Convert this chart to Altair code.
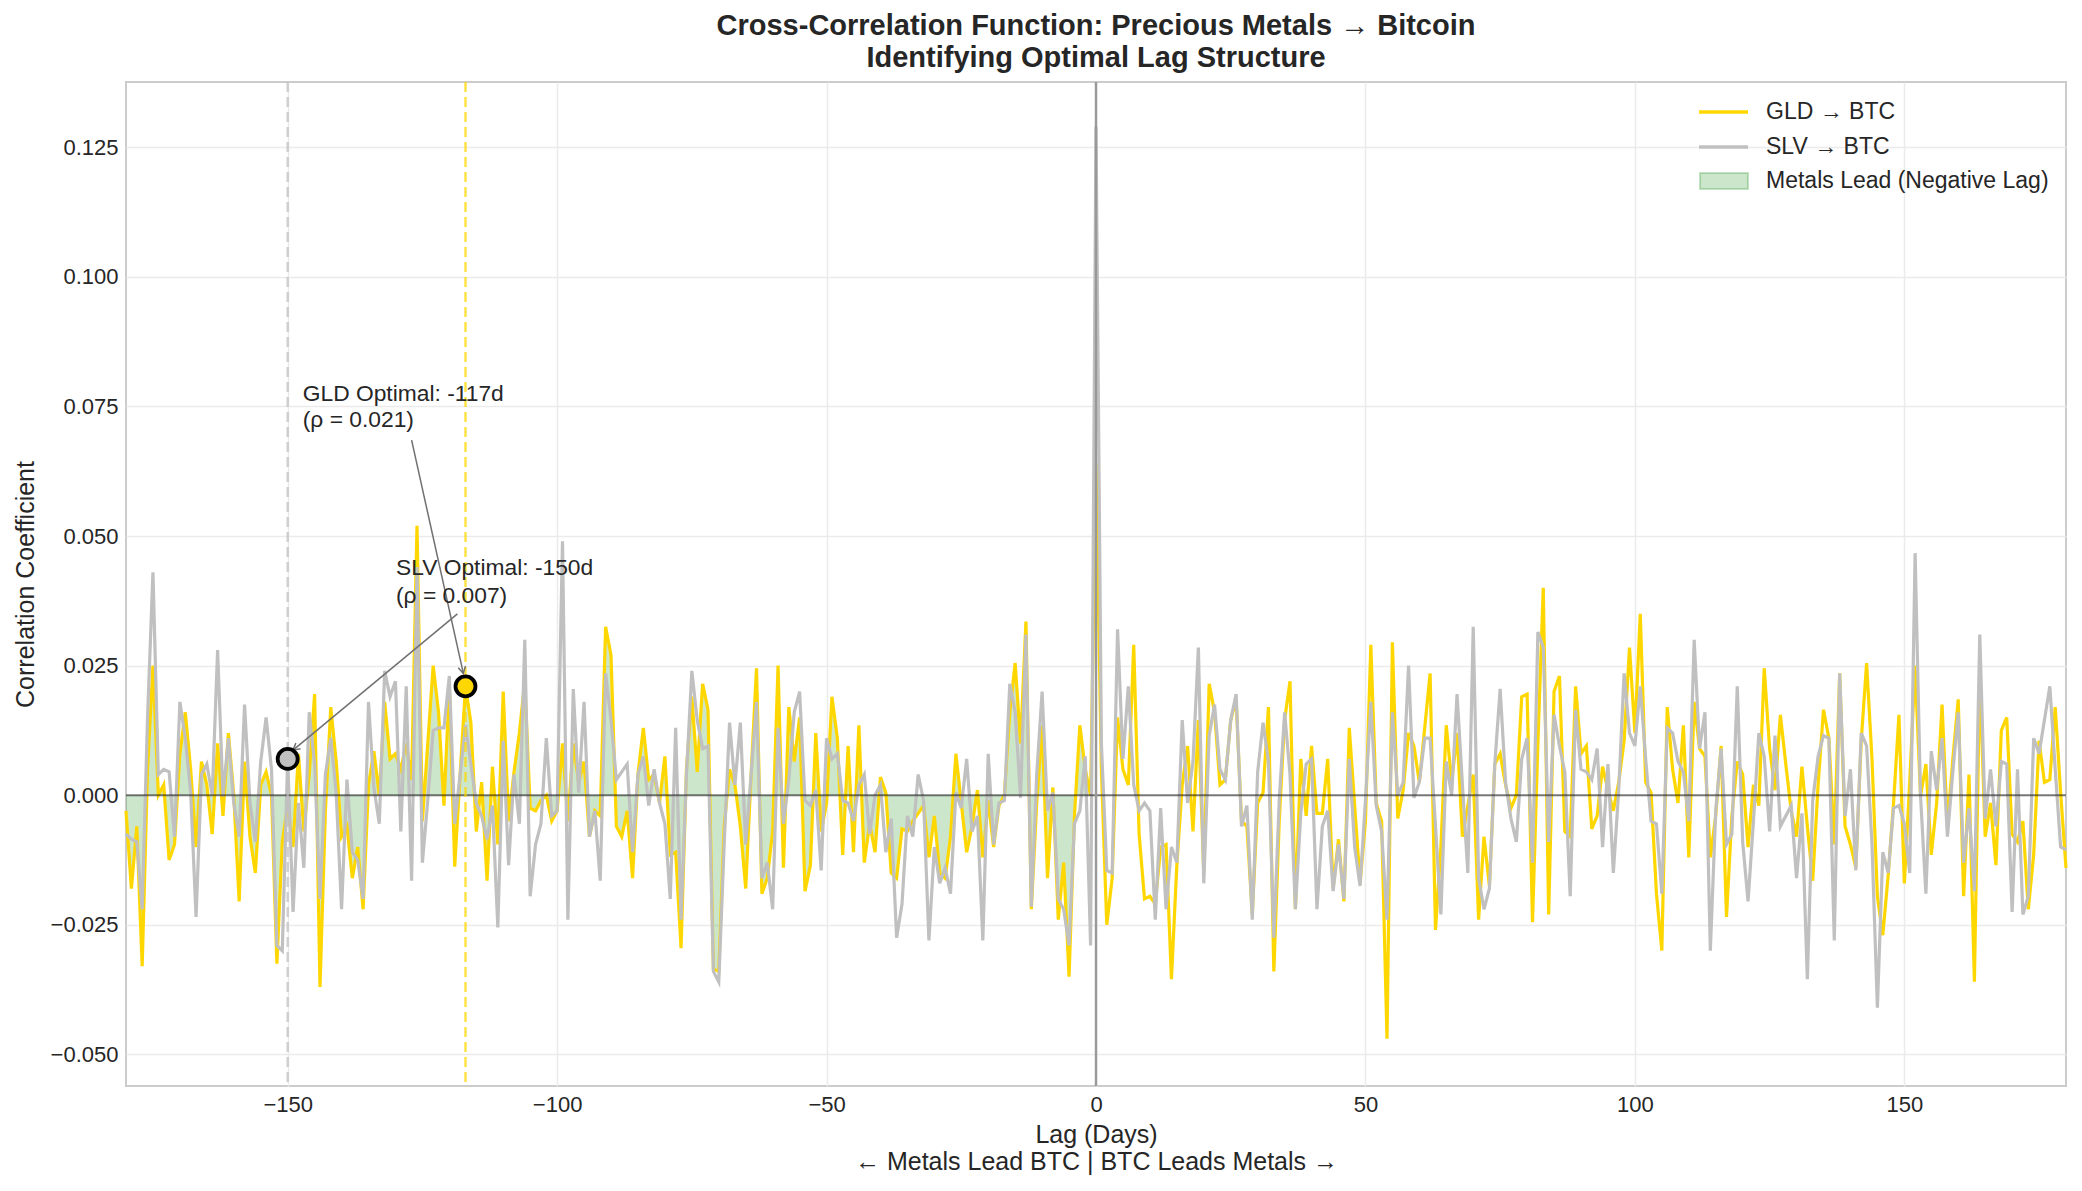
import math
import altair as alt
import pandas as pd

# ---------------- data ----------------
lags = list(range(-180, 181))

gld_ccf = [
    # -180 .. -120
    -0.003, -0.018, -0.006, -0.033, 0.005, 0.025, 0.000, 0.002, -0.0125, -0.0095,
    0.008, 0.016, 0.005, -0.010, 0.0065, 0.002, -0.0075, 0.010, -0.004, 0.012,
    0.000, -0.0205, 0.0065, -0.008, -0.015, 0.002, 0.0045, 0.000, -0.0325, -0.009,
    -0.002, -0.010, 0.008, -0.007, 0.004, 0.0195, -0.037, -0.003, 0.017, 0.0065,
    -0.008, -0.006, -0.016, -0.010, -0.022, 0.002, 0.0085, 0.000, 0.018, 0.007,
    0.008, 0.005, 0.010, 0.003, 0.052, -0.005, 0.010, 0.025, 0.016, -0.002,
    0.021,
    # -119 .. -57
    -0.0138, 0.004, 0.021, 0.014, -0.007, 0.0025, -0.0165, 0.0055, -0.0095, 0.020,
    -0.005, 0.0045, 0.012, 0.022, -0.0025, -0.003, -0.001, 0.000, -0.005, -0.003,
    0.010, -0.005, 0.010, 0.0025, 0.0065, -0.008, -0.003, -0.004, 0.0325, 0.027,
    -0.006, -0.008, -0.003, -0.016, 0.004, 0.013, 0.003, 0.004, -0.0015, 0.0075,
    -0.0115, -0.011, -0.0295, 0.005, 0.019, 0.0045, 0.0215, 0.0165, -0.0335, -0.034,
    -0.006, 0.005, 0.002, -0.006, -0.018, 0.004, 0.0245, -0.019, -0.016, -0.007,
    0.025, -0.014, 0.017,
    # -56 .. 6
    0.0065, 0.015, -0.0185, -0.0135, 0.012, -0.007, -0.0015, 0.019, 0.011, -0.0115,
    0.0095, -0.011, 0.0135, -0.013, -0.0055, -0.011, 0.0035, 0.0005, -0.015, -0.016,
    -0.0065, -0.007, -0.005, -0.0035, -0.002, -0.012, -0.004, -0.015, -0.016, -0.008,
    0.008, -0.0015, -0.011, -0.006, 0.001, -0.012, -0.001, -0.010, -0.002, 0.000,
    0.016, 0.0255, 0.010, 0.0335, -0.022, -0.0015, 0.0135, -0.016, 0.0015, -0.024,
    -0.013, -0.035, -0.004, 0.0135, 0.005, 0.000, 0.064, 0.005, -0.025, -0.016,
    0.015, 0.005, 0.002,
    # 7 .. 69
    0.029, -0.0075, -0.020, -0.0195, -0.021, -0.010, -0.0095, -0.0355, -0.0135, 0.002,
    0.0095, -0.007, 0.0145, -0.015, 0.0215, 0.016, 0.002, 0.003, 0.0145, 0.0185,
    -0.005, -0.006, -0.023, -0.0015, 0.0005, 0.017, -0.034, -0.005, 0.0145, 0.022,
    -0.022, 0.007, -0.004, 0.0095, -0.0035, -0.0035, 0.007, -0.018, -0.0085, -0.0205,
    0.013, -0.002, -0.017, -0.005, 0.029, -0.0015, -0.005, -0.047, 0.0295, -0.0045,
    0.001, 0.012, 0.0095, 0.0025, 0.013, 0.0235, -0.026, -0.010, 0.0135, 0.0025,
    0.012, -0.008, -0.002,
    # 70 .. 132
    0.004, -0.024, -0.008, -0.0175, 0.006, 0.008, 0.002, -0.0025, 0.000, 0.019,
    0.0195, -0.0245, 0.010, 0.040, -0.023, 0.020, 0.023, -0.007, -0.008, 0.021,
    0.008, 0.0095, -0.0065, -0.004, 0.0055, 0.001, -0.003, 0.0025, 0.0105, 0.0285,
    0.012, 0.035, 0.0025, 0.0005, -0.019, -0.030, 0.017, 0.005, -0.0015, 0.0135,
    -0.012, 0.018, 0.009, 0.0075, -0.012, -0.004, 0.0095, -0.0235, -0.004, 0.0065,
    0.004, -0.010, 0.002, -0.002, 0.0245, 0.009, 0.001, 0.0155, 0.006, -0.003,
    -0.008, 0.0055, -0.006,
    # 133 .. 180
    -0.0165, 0.002, 0.0165, 0.011, -0.0095, 0.0235, -0.006, -0.0095, -0.014, 0.0105,
    0.0255, 0.007, -0.0195, -0.027, -0.0155, -0.0015, 0.0155, -0.017, 0.0025, 0.025,
    -0.0002, 0.006, -0.0115, -0.0015, 0.0175, -0.006, 0.007, 0.0185, -0.0195, 0.004,
    -0.036, 0.0235, -0.008, -0.0015, -0.0135, 0.0125, 0.015, -0.0075, -0.009, -0.005,
    -0.022, -0.0115, 0.0105, 0.0025, 0.003, 0.017, 0.0005, -0.014,
]

slv_ccf = [
    # -180 .. -120
    -0.0075, -0.0085, -0.009, -0.022, 0.015, 0.043, 0.004, 0.005, 0.0045, -0.008,
    0.018, 0.011, 0.0005, -0.0235, 0.004, 0.006, 0.000, 0.028, -0.0002, 0.011,
    -0.0015, -0.008, 0.0175, -0.0015, -0.009, 0.0065, 0.015, 0.005, -0.029, -0.030,
    0.007, -0.0225, -0.0015, -0.014, 0.016, 0.006, -0.020, 0.004, 0.011, 0.0005,
    -0.022, 0.003, -0.011, -0.0125, -0.020, 0.018, 0.0015, -0.0055, 0.024, 0.019,
    0.022, -0.007, 0.021, -0.0165, 0.044, -0.013, -0.001, 0.0125, 0.013, 0.013,
    0.023,
    # -119 .. -57
    -0.0055, 0.004, 0.0135, 0.006, -0.0015, -0.004, -0.0085, -0.002, -0.0255, 0.0105,
    -0.0135, 0.004, -0.0055, 0.030, -0.0195, -0.0095, -0.0055, 0.011, -0.004, -0.003,
    0.049, -0.024, 0.0205, 0.0005, 0.018, -0.008, -0.003, -0.0165, 0.0235, 0.0145,
    0.003, 0.0045, 0.006, -0.011, 0.004, 0.0075, -0.002, 0.005, -0.0015, -0.0055,
    -0.020, 0.013, -0.024, 0.004, 0.024, 0.0145, 0.009, 0.0095, -0.034, -0.036,
    -0.0095, 0.014, 0.002, 0.014, -0.0095, 0.004, 0.018, -0.016, -0.013, -0.022,
    0.013, -0.0055, 0.003,
    # -56 .. 6
    0.016, 0.020, -0.001, -0.002, 0.001, -0.0145, 0.011, 0.007, 0.008, -0.001,
    -0.0015, -0.005, 0.002, 0.004, -0.0075, 0.000, 0.002, -0.011, -0.0045, -0.0275,
    -0.021, -0.004, -0.008, 0.004, -0.001, -0.028, -0.010, -0.017, -0.014, -0.019,
    0.0005, -0.0025, 0.007, -0.007, -0.004, -0.028, 0.008, -0.0095, -0.0015, -0.001,
    0.0215, 0.016, -0.0005, 0.031, -0.0215, 0.004, 0.020, -0.003, 0.0005, -0.020,
    -0.022, -0.029, -0.0055, -0.003, 0.0075, -0.029, 0.129, 0.010, -0.0145, -0.015,
    0.032, 0.007, 0.021,
    # 7 .. 69
    0.002, -0.003, -0.0015, -0.003, -0.024, -0.0025, -0.022, -0.010, -0.013, 0.0145,
    -0.0015, 0.0065, 0.0285, -0.017, 0.0115, 0.0175, 0.005, 0.003, 0.0145, 0.0195,
    -0.006, -0.002, -0.024, 0.0045, 0.014, 0.0065, -0.0275, -0.001, 0.016, 0.004,
    -0.022, -0.0035, 0.006, 0.007, -0.022, -0.006, -0.003, -0.0185, -0.0095, -0.020,
    0.007, -0.010, -0.0175, -0.001, 0.018, -0.002, -0.007, -0.024, 0.016, 0.000,
    0.0025, 0.025, -0.0005, 0.0025, 0.011, 0.011, -0.006, -0.023, 0.0065, 0.000,
    0.0195, 0.002, -0.015,
    # 70 .. 132
    0.0325, -0.016, -0.022, -0.018, 0.006, 0.0205, 0.0025, -0.0045, -0.009, 0.007,
    0.011, -0.013, 0.0315, 0.0285, -0.009, 0.0155, 0.0095, 0.0045, -0.0195, 0.0165,
    0.005, 0.0045, 0.003, 0.009, -0.010, 0.006, -0.015, 0.001, 0.0235, 0.012,
    0.0095, 0.021, 0.007, -0.005, -0.0055, -0.019, 0.013, 0.012, 0.0065, 0.0045,
    -0.005, 0.030, 0.009, 0.016, -0.030, -0.003, 0.009, -0.0095, -0.0075, 0.021,
    -0.009, -0.0205, -0.005, 0.012, 0.0075, -0.007, 0.0115, -0.006, -0.004, -0.002,
    -0.016, -0.0035, -0.0355,
    # 133 .. 180
    -0.001, 0.0075, 0.0115, 0.011, -0.028, 0.0235, -0.004, 0.005, -0.0145, 0.012,
    0.0095, -0.0095, -0.041, -0.011, -0.015, -0.0025, -0.002, -0.0055, -0.015, 0.0467,
    0.000, -0.019, 0.0085, 0.001, 0.011, -0.008, 0.0045, 0.016, -0.013, -0.0025,
    -0.0185, 0.031, -0.0045, 0.005, -0.006, 0.0065, 0.006, -0.0225, 0.005, -0.023,
    -0.0195, 0.011, 0.008, 0.0145, 0.021, 0.005, -0.010, -0.0105,
]

series_names = ["GLD → BTC", "SLV → BTC", "Metals Lead (Negative Lag)"]
optimal_names = ["GLD", "SLV"]
optimal_lags = [-117, -150]
optimal_rhos = [0.021, 0.007]
annot_x = [-147.2, -129.9]
annot_line1_y = [0.0761, 0.0425]
annot_line2_y = [0.0711, 0.0371]
arrow_from_x = [-127.0, -118.5]
arrow_from_y = [0.0685, 0.0350]
arrow_to_x = [-117.4, -149.0]
arrow_to_y = [0.0235, 0.0087]
x_ticks = [-150, -100, -50, 0, 50, 100, 150]
y_ticks = [-0.05, -0.025, 0.0, 0.025, 0.05, 0.075, 0.1, 0.125]

GOLD = "#FFD700"
SILVER = "#C0C0C0"
FONT = "Liberation Sans"
TXT = "#262626"

W, H = 1940, 1004
X_DOM = [-180, 180]
Y_DOM = [-0.0561, 0.1376]

df = pd.DataFrame({"lag": lags, "gld": gld_ccf, "slv": slv_ccf})
lead = df[df["lag"] < 0]


def _px_angle(x0, y0, x1, y1):
    # screen-space direction (degrees clockwise from "up") of an arrow from (x0,y0) to (x1,y1)
    dx = (x1 - x0) / (X_DOM[1] - X_DOM[0]) * W
    dy = -(y1 - y0) / (Y_DOM[1] - Y_DOM[0]) * H
    return (math.degrees(math.atan2(dx, -dy)) + 360) % 360


opt = pd.DataFrame({
    "name": optimal_names,
    "lag": optimal_lags,
    "rho": optimal_rhos,
    "fill": [GOLD, SILVER],
    "ax": arrow_from_x,
    "ay": arrow_from_y,
    "bx": arrow_to_x,
    "by": arrow_to_y,
    "ang": [_px_angle(a, b, c, d) for a, b, c, d in zip(arrow_from_x, arrow_from_y, arrow_to_x, arrow_to_y)],
})

ann = pd.DataFrame({
    "text": [f"{n} Optimal: {l}d" for n, l in zip(optimal_names, optimal_lags)]
            + [f"(ρ = {r:.3f})" for r in optimal_rhos],
    "tx": annot_x + annot_x,
    "ty": annot_line1_y + annot_line2_y,
})

xscale = alt.Scale(domain=X_DOM, nice=False, zero=False)
yscale = alt.Scale(domain=Y_DOM, nice=False, zero=False)

x_axis = alt.Axis(values=x_ticks, format="d",
                  title=["Lag (Days)", "← Metals Lead BTC | BTC Leads Metals →"])
y_axis = alt.Axis(values=y_ticks, format=".3f", title="Correlation Coefficient")

base = alt.Chart(df)

area = alt.Chart(lead).mark_area(color="#008000", opacity=0.2).encode(
    x=alt.X("lag:Q", scale=xscale, axis=x_axis),
    y=alt.Y("gld:Q", scale=yscale, axis=y_axis),
    y2=alt.datum(0),
)

gld_line = base.mark_line(color=GOLD, strokeWidth=3.2).encode(
    x=alt.X("lag:Q", scale=xscale), y=alt.Y("gld:Q", scale=yscale))
slv_line = base.mark_line(color=SILVER, strokeWidth=3.2).encode(
    x=alt.X("lag:Q", scale=xscale), y=alt.Y("slv:Q", scale=yscale))

zero_h = alt.Chart(pd.DataFrame({"v": [0.0]})).mark_rule(
    color="black", opacity=0.5, strokeWidth=2).encode(y=alt.Y("v:Q", scale=yscale))
zero_v = alt.Chart(pd.DataFrame({"v": [0]})).mark_rule(
    color="#999999", strokeWidth=2.4).encode(x=alt.X("v:Q", scale=xscale))

opt_v = alt.Chart(opt).mark_rule(strokeDash=[10, 5], strokeWidth=2.4, opacity=0.75).encode(
    x=alt.X("lag:Q", scale=xscale),
    color=alt.Color("fill:N", scale=None),
)

arrows = alt.Chart(opt).mark_rule(color="#707070", strokeWidth=1.5).encode(
    x=alt.X("ax:Q", scale=xscale), y=alt.Y("ay:Q", scale=yscale),
    x2="bx:Q", y2="by:Q",
)
heads = alt.Chart(opt).mark_point(shape="M-0.55,1L0,0L0.55,1", filled=False,
                                   color="#707070", strokeWidth=1.5, size=180, opacity=1).encode(
    x=alt.X("bx:Q", scale=xscale), y=alt.Y("by:Q", scale=yscale),
    angle=alt.Angle("ang:Q", scale=None),
)

markers = alt.Chart(opt).mark_point(filled=True, size=400, shape="circle",
                                     stroke="black", strokeWidth=3.8, opacity=1).encode(
    x=alt.X("lag:Q", scale=xscale), y=alt.Y("rho:Q", scale=yscale),
    fill=alt.Fill("fill:N", scale=None),
)

labels = alt.Chart(ann).mark_text(align="left", baseline="alphabetic",
                                  fontSize=22.8, font=FONT, color=TXT).encode(
    x=alt.X("tx:Q", scale=xscale), y=alt.Y("ty:Q", scale=yscale), text="text:N")

# manual legend (top-right inside the plot), pixel positions within the plot area
one = pd.DataFrame({"k": [0]})
legend_rows_y = [30, 65, 99]
leg_gld = alt.Chart(one).mark_rule(color=GOLD, strokeWidth=3.6).encode(
    x=alt.value(1573), x2=alt.value(1622), y=alt.value(legend_rows_y[0]))
leg_slv = alt.Chart(one).mark_rule(color=SILVER, strokeWidth=3.6).encode(
    x=alt.value(1573), x2=alt.value(1622), y=alt.value(legend_rows_y[1]))
leg_patch = alt.Chart(one).mark_rect(
    fill="#008000", fillOpacity=0.2, stroke="#008000", strokeOpacity=0.22, strokeWidth=2).encode(
    x=alt.value(1574), x2=alt.value(1622), y=alt.value(91), y2=alt.value(107))
leg_texts = [
    alt.Chart(one).mark_text(align="left", baseline="middle", fontSize=23, font=FONT,
                             color=TXT, text=name).encode(
        x=alt.value(1640), y=alt.value(yy))
    for name, yy in zip(series_names, legend_rows_y)
]

chart = alt.layer(
    area, gld_line, slv_line, zero_h, zero_v, opt_v, arrows, heads, markers, labels,
    leg_gld, leg_slv, leg_patch, *leg_texts,
).properties(
    width=W, height=H,
    title=alt.Title(["Cross-Correlation Function: Precious Metals → Bitcoin",
                     "Identifying Optimal Lag Structure"],
                    anchor="middle", fontSize=29, font=FONT, fontWeight="bold",
                    color=TXT, lineHeight=32, offset=8),
    autosize=alt.AutoSizeParams(type="none"),
    padding={"left": 118, "top": 74, "right": 8, "bottom": 97},
).configure_view(
    stroke="#cccccc", strokeWidth=2
).configure_axis(
    labelFont=FONT, labelFontSize=22, labelColor=TXT,
    titleFont=FONT, titleFontSize=25, titleColor=TXT, titleFontWeight="normal",
    grid=True, gridColor="#ebebeb", gridWidth=1.5,
    domain=False, ticks=False, labelPadding=8,
).configure_axisX(titlePadding=7, titleLineHeight=27).configure_axisY(titlePadding=12)

chart.save("out.html", embed_options={"renderer": "svg", "actions": False})
